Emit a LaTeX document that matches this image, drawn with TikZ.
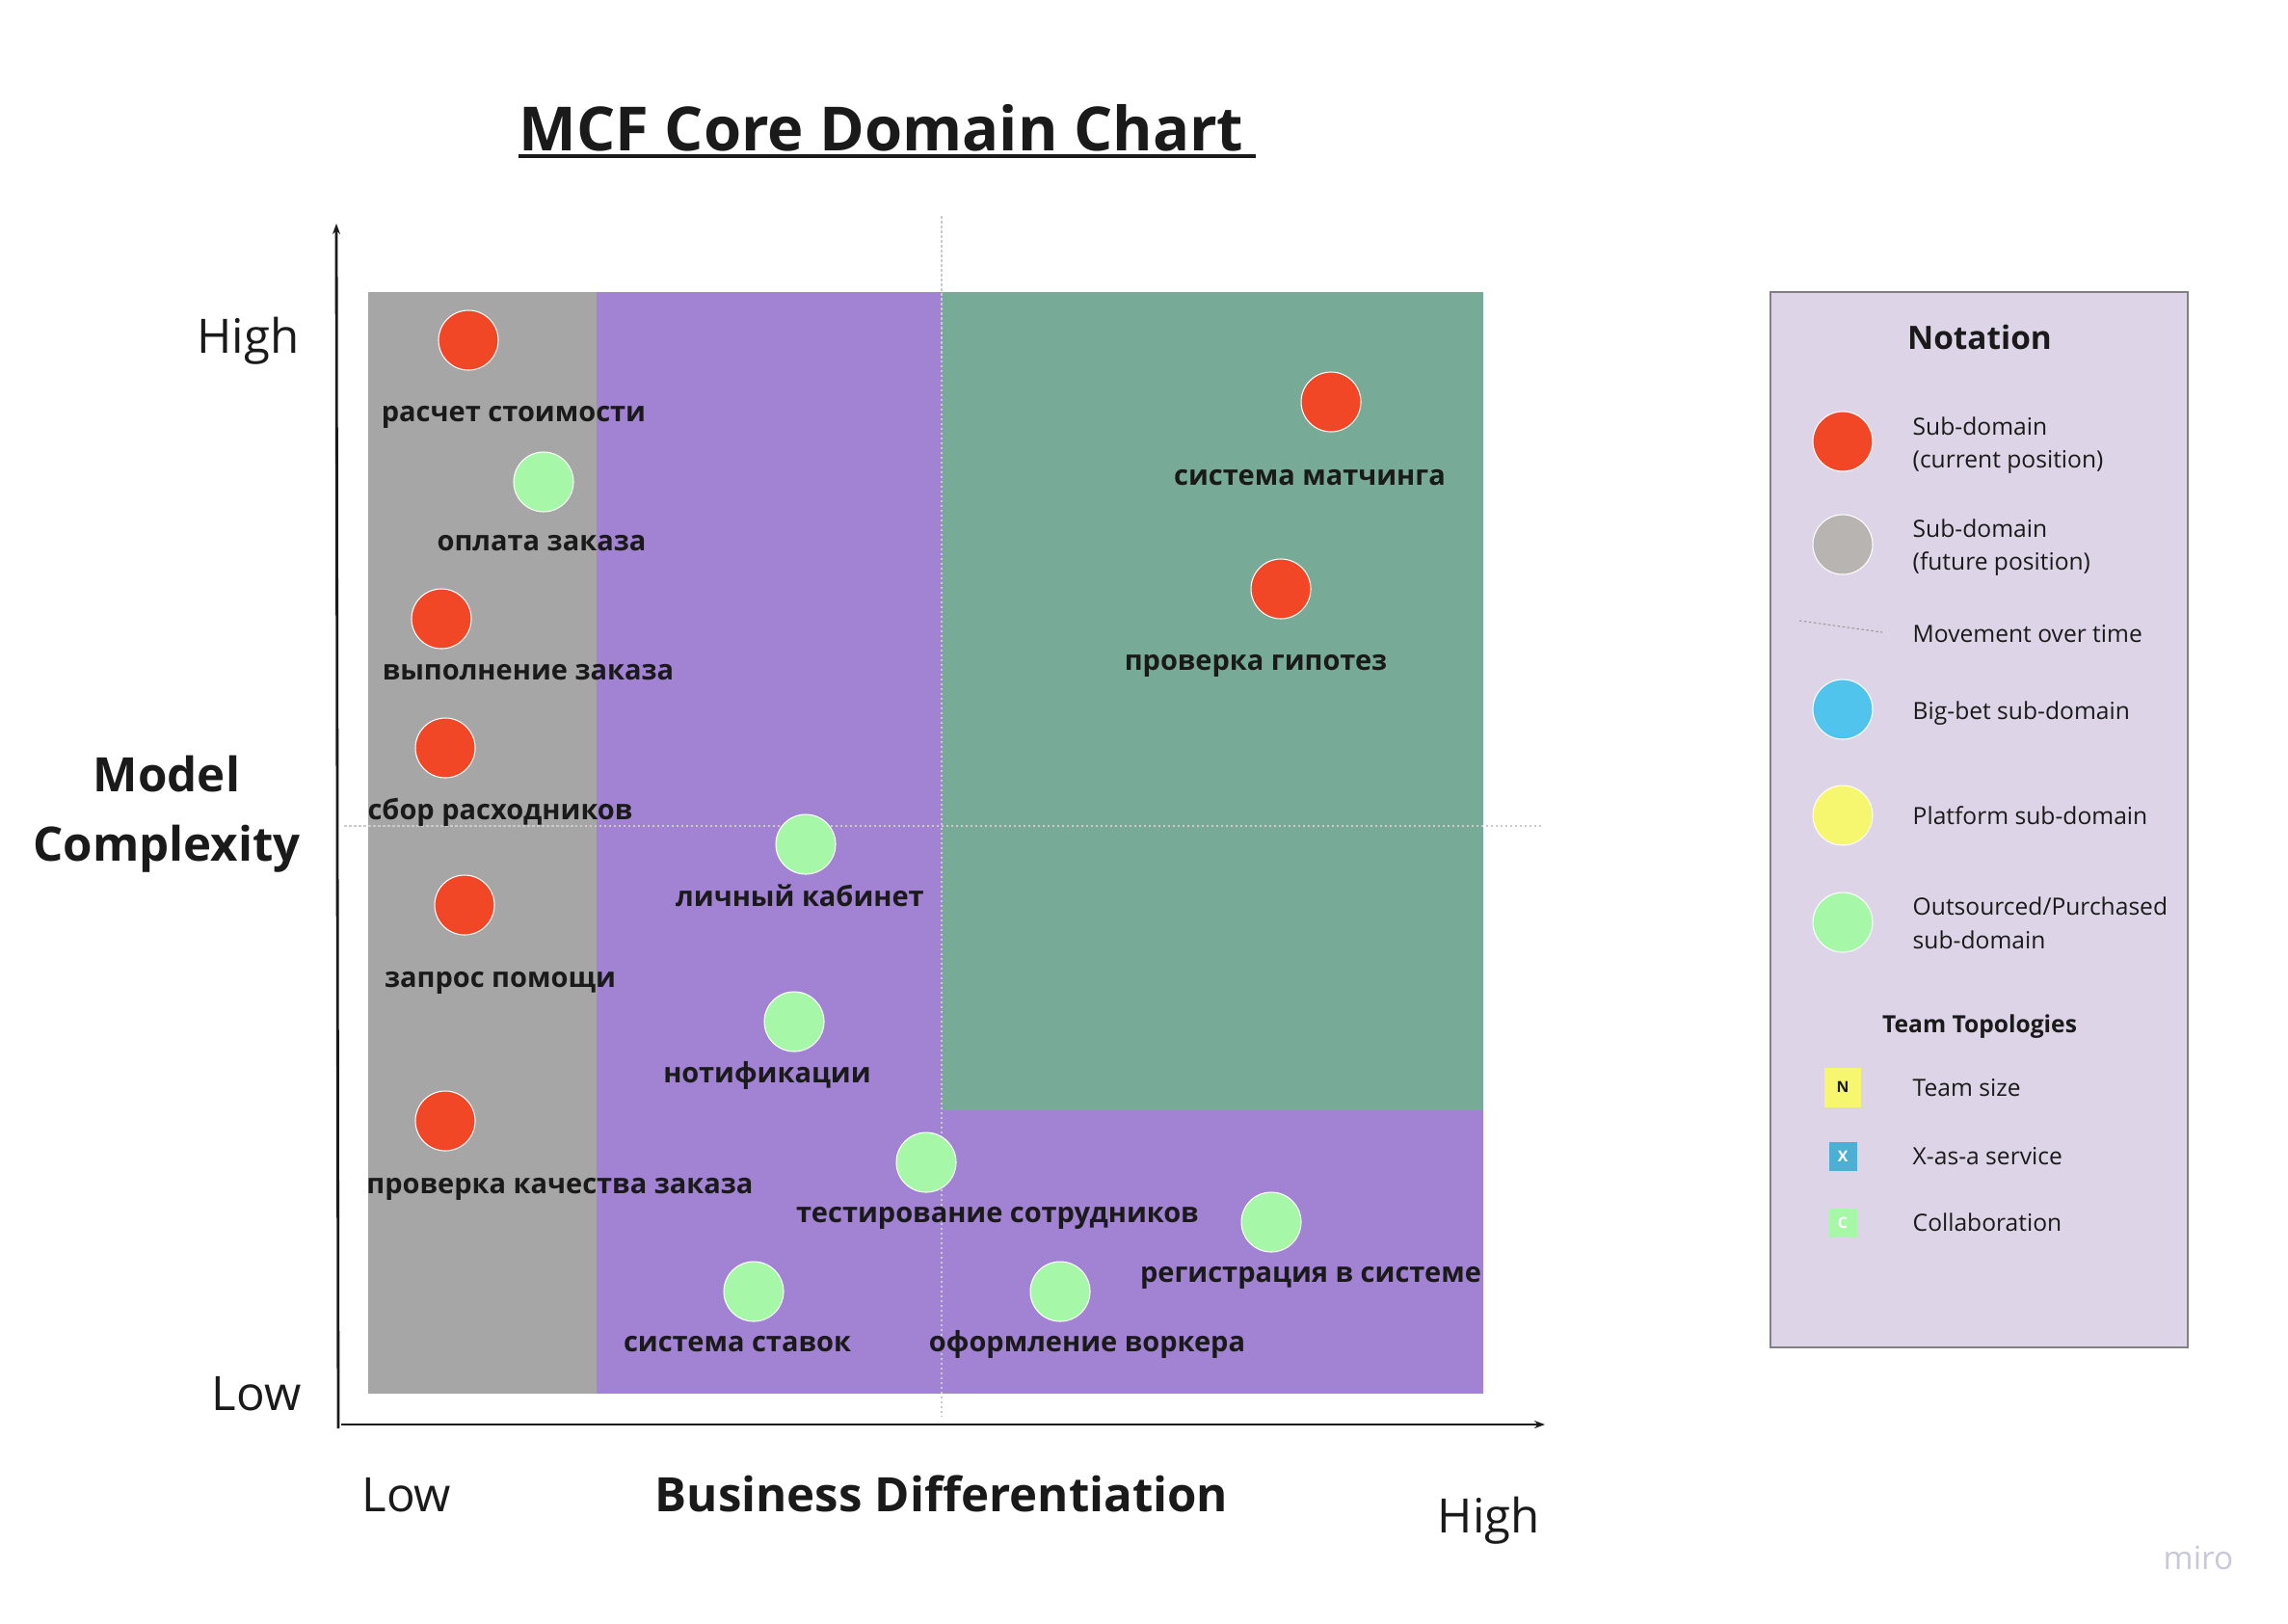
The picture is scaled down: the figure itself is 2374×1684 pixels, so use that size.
\documentclass[tikz,border=0pt]{standalone}
\usepackage{fontspec}
\setmainfont{Open Sans}
\usepackage{xcolor}
\usepackage{tikz}
\usetikzlibrary{arrows.meta}
\definecolor{subred}{HTML}{F24726}
\definecolor{subgreen}{HTML}{A6F8A8}
\definecolor{subgray}{HTML}{B8B4B2}
\definecolor{subblue}{HTML}{50C4EC}
\definecolor{subyellow}{HTML}{F6F76F}
\definecolor{zonegray}{HTML}{A6A6A6}
\definecolor{zonepurple}{HTML}{A282D2}
\definecolor{zonegreen}{HTML}{78AB97}
\definecolor{notebg}{HTML}{DDD4E7}
\definecolor{ink}{HTML}{1A1A1A}
\definecolor{xblue}{HTML}{4CAFD3}
\definecolor{mirogray}{HTML}{C8C8D8}

\begin{document}
\begin{tikzpicture}[x=0.1mm,y=-0.1mm,
  dom/.style={circle,draw=white,line width=0.3pt,minimum size=6.2mm,inner sep=0pt},
  cur/.style={dom,fill=subred},
  outs/.style={dom,fill=subgreen},
  lbl/.style={anchor=base,inner sep=0pt,text=ink,font=\bfseries\fontsize{8.25}{10}\selectfont},
  axislbl/.style={anchor=base,inner sep=0pt,text=ink,font=\fontsize{14}{17}\selectfont},
  notetxt/.style={anchor=west,inner sep=0pt,text=ink,align=left,font=\fontsize{7}{9.9}\selectfont},
  notehead/.style={anchor=base,inner sep=0pt,text=ink,font=\bfseries\fontsize{9.5}{11}\selectfont},
  team/.style={inner sep=0pt,font=\bfseries\fontsize{4.5}{5}\selectfont},
  guide/.style={zonegray!60,line width=0.3pt,dash pattern=on 0.25mm off 0.25mm},
  axis/.style={-{Stealth[length=1.1mm,width=0.8mm]},ink,line width=0.8pt}]
  \useasboundingbox (0,0) rectangle (2374,1684);
  \fill[zonegray] (382,303) rectangle (619,1446);
  \fill[zonepurple] (619,303) rectangle (1539,1446);
  \fill[zonegreen] (977,303) rectangle (1539,1152);
  \draw[guide] (977,224) -- (977,1469);
  \draw[guide] (357,857) -- (1600,857);
  \coordinate (origin) at (351,1482);
  \coordinate (ytop) at (349,232);
  \coordinate (xend) at (1603,1478);
  \coordinate (xstart) at (354,1478);
  \draw[axis] (origin) -- (ytop);
  \draw[axis] (xstart) -- (xend);
  \node[anchor=base west,inner sep=0pt,text=ink,font=\bfseries\fontsize{18}{21}\selectfont] (title) at (538,156) {MCF Core Domain Chart};
  \draw[ink,line width=1.1pt] (538,162) -- (1303,162);
  \node[axislbl,anchor=base east] (yhigh) at (311,366) {High};
  \node[axislbl,anchor=base east] (ylow) at (313,1463) {Low};
  \node[axislbl,anchor=base west] (xlow) at (375,1568) {Low};
  \node[axislbl,anchor=base west] (xhigh) at (1491,1590) {High};
  \node[axislbl,font=\bfseries\fontsize{14}{20.5}\selectfont] (xtitle) at (977,1568) {Business Differentiation};
  \node[axislbl,font=\bfseries\fontsize{14}{20.5}\selectfont] (ytitle1) at (173,821) {Model};
  \node[axislbl,font=\bfseries\fontsize{14}{20.5}\selectfont] (ytitle2) at (173,893) {Complexity};
  \node[cur] (c1) at (486,353) {};
  \node[lbl] (t1) at (533,437) {расчет стоимости};
  \node[outs] (c2) at (564,500) {};
  \node[lbl] (t2) at (562,571) {оплата заказа};
  \node[cur] (c3) at (458,642) {};
  \node[lbl] (t3) at (548,705) {выполнение заказа};
  \node[cur] (c4) at (462,776) {};
  \node[lbl] (t4) at (519,850) {сбор расходников};
  \node[outs] (c5) at (836,876) {};
  \node[lbl] (t5) at (830,940) {личный кабинет};
  \node[cur] (c6) at (482,939) {};
  \node[lbl] (t6) at (519,1024) {запрос помощи};
  \node[outs] (c7) at (824,1060) {};
  \node[lbl] (t7) at (796,1123) {нотификации};
  \node[cur] (c8) at (462,1163) {};
  \node[lbl] (t8) at (581,1238) {проверка качества заказа};
  \node[outs] (c9) at (961,1206) {};
  \node[lbl] (t9) at (1035,1268) {тестирование сотрудников};
  \node[outs] (c10) at (1319,1268) {};
  \node[lbl] (t10) at (1360,1330) {регистрация в системе};
  \node[outs] (c11) at (782,1340) {};
  \node[lbl] (t11) at (765,1402) {система ставок};
  \node[outs] (c12) at (1100,1340) {};
  \node[lbl] (t12) at (1128,1402) {оформление воркера};
  \node[cur] (c13) at (1381,417) {};
  \node[lbl] (t13) at (1359,503) {система матчинга};
  \node[cur] (c14) at (1329,611) {};
  \node[lbl] (t14) at (1303,695) {проверка гипотез};
  \draw[fill=notebg,draw=ink!55,line width=0.5pt] (1837,303) rectangle (2270,1398);
  \node[notehead] (notation) at (2054,362) {Notation};
  \node[dom,fill=subred] (k1) at (1912,458) {};
  \node[notetxt] (n1) at (1984,462) {Sub-domain\\(current position)};
  \node[dom,fill=subgray] (k2) at (1912,565) {};
  \node[notetxt] (n2) at (1984,568) {Sub-domain\\(future position)};
  \coordinate (m1) at (1867,644);
  \coordinate (m2) at (1953,656);
  \draw[guide,ink!45] (m1) -- (m2);
  \node[notetxt,anchor=base west] (n3) at (1984,666) {Movement over time};
  \node[dom,fill=subblue] (k4) at (1912,736) {};
  \node[notetxt,anchor=base west] (n4) at (1984,746) {Big-bet sub-domain};
  \node[dom,fill=subyellow] (k5) at (1912,846) {};
  \node[notetxt,anchor=base west] (n5) at (1984,855) {Platform sub-domain};
  \node[dom,fill=subgreen] (k6) at (1912,957) {};
  \node[notetxt] (n6) at (1984,958) {Outsourced/Purchased\\sub-domain};
  \node[notehead,font=\bfseries\fontsize{7}{9}\selectfont] (topo) at (2054,1071) {Team Topologies};
  \node[team,fill=subyellow,minimum width=3.8mm,minimum height=4.1mm,text=ink] (q1) at (1912,1128) {N};
  \node[notetxt,anchor=base west] (r1) at (1984,1137) {Team size};
  \node[team,fill=xblue,minimum width=2.9mm,minimum height=3mm,text=white] (q2) at (1912,1200) {X};
  \node[notetxt,anchor=base west] (r2) at (1984,1208) {X-as-a service};
  \node[team,fill=subgreen,minimum width=2.9mm,minimum height=3mm,text=white] (q3) at (1912,1269) {C};
  \node[notetxt,anchor=base west] (r3) at (1984,1277) {Collaboration};
  \node[anchor=base,inner sep=0pt,text=mirogray,font=\fontsize{9.5}{11}\selectfont] (miro) at (2281,1628) {miro};
\end{tikzpicture}
\end{document}
